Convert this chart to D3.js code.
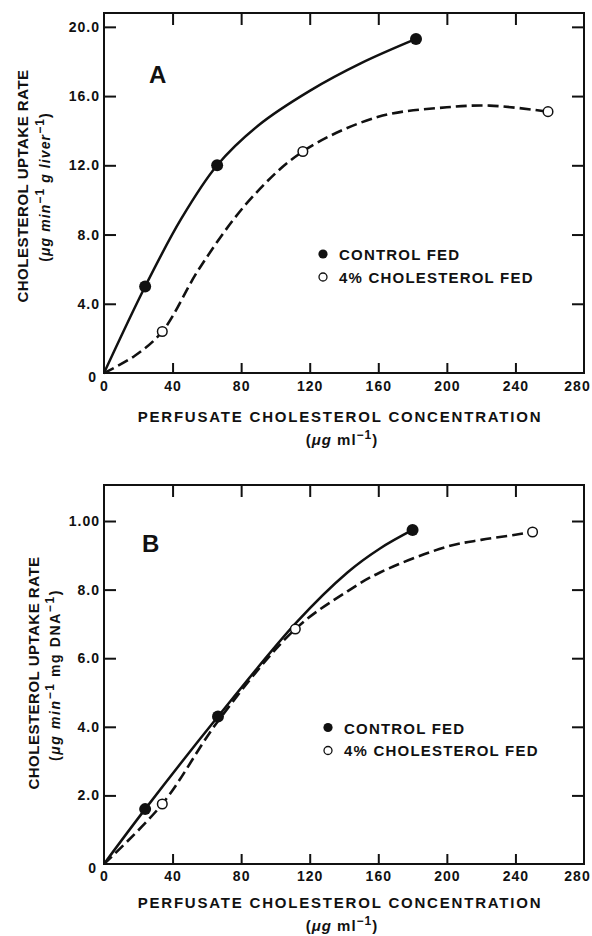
<!DOCTYPE html>
<html><head><meta charset="utf-8">
<script src="https://cdn.jsdelivr.net/npm/d3@7/dist/d3.min.js"></script>
<style>
html,body{margin:0;padding:0;background:#fff;}
svg{display:block;}
text{font-family:"Liberation Sans",Arial,Helvetica,sans-serif;fill:#111;}
</style></head>
<body>
<svg id="chart" width="592" height="936"></svg>
<script>
// ---------- data ----------
const xTicks = [0, 40, 80, 120, 160, 200, 240, 280];
const xTickLabels = ["0", "40", "80", "120", "160", "200", "240", "280"];

const yTicksA = [0, 4, 8, 12, 16, 20];
const yTickLabelsA = ["0", "4.0", "8.0", "12.0", "16.0", "20.0"];
const yTicksB = [0, 0.2, 0.4, 0.6, 0.8, 1.0];
const yTickLabelsB = ["0", "2.0", "4.0", "6.0", "8.0", "1.00"];

const seriesNames = ["CONTROL FED", "4% CHOLESTEROL FED"];

// Panel A measured points
const controlA_x = [24, 66, 182];
const controlA_y = [5.0, 12.0, 19.3];
const cholA_x = [34, 116, 259];
const cholA_y = [2.4, 12.8, 15.1];
// Panel A hand-drawn curves
const controlCurveA_x = [0, 24, 45, 66, 90, 120, 150, 182];
const controlCurveA_y = [0, 5.0, 8.9, 12.0, 14.3, 16.3, 17.9, 19.3];
const cholCurveA_x = [0, 18, 34, 56, 85, 116, 160, 200, 225, 259];
const cholCurveA_y = [0, 1.0, 2.4, 6.1, 10.0, 12.8, 14.8, 15.35, 15.45, 15.1];

// Panel B measured points
const controlB_x = [24, 66.5, 180];
const controlB_y = [0.16, 0.43, 0.974];
const cholB_x = [34, 111.6, 250];
const cholB_y = [0.175, 0.685, 0.968];
// Panel B hand-drawn curves
const controlCurveB_x = [0, 24, 66.5, 112, 142, 161, 180];
const controlCurveB_y = [0, 0.16, 0.43, 0.703, 0.85, 0.92, 0.974];
const cholCurveB_x = [0, 34, 67, 111.6, 142, 161, 200, 220, 240, 250];
const cholCurveB_y = [0, 0.175, 0.42, 0.685, 0.795, 0.85, 0.925, 0.945, 0.96, 0.968];

// ---------- drawing ----------
const svg = d3.select("#chart");
const zip = (xs, ys) => xs.map((x, i) => [x, ys[i]]);

function drawPanel(cfg) {
  const x = d3.scaleLinear().domain([0, 280]).range([cfg.left, cfg.right]);
  const y = d3.scaleLinear().domain([0, cfg.yMax]).range([cfg.bottom, cfg.top]);
  const g = svg.append("g");

  // frame
  g.append("rect").attr("x", cfg.left).attr("y", cfg.top)
    .attr("width", cfg.right - cfg.left).attr("height", cfg.bottom - cfg.top)
    .attr("fill", "none").attr("stroke", "#111").attr("stroke-width", 2);

  const tickFont = sel => sel.selectAll("text")
    .attr("font-size", 14).attr("font-weight", "bold")
    .attr("letter-spacing", 1).attr("fill", "#111")
    .attr("font-family", "Liberation Sans, Arial, sans-serif");

  // bottom axis
  const bx = g.append("g").attr("transform", `translate(0,${cfg.bottom})`)
    .call(d3.axisBottom(x).tickValues(xTicks)
      .tickFormat((d, i) => xTickLabels[i]).tickSizeInner(-10).tickSizeOuter(0).tickPadding(cfg.xPad));
  bx.select(".domain").remove();
  bx.selectAll("line").attr("stroke", "#111").attr("stroke-width", 2);
  tickFont(bx);
  bx.selectAll(".tick").filter(d => d === 280).select("text").attr("dx", -7);
  bx.selectAll(".tick").filter(d => d === 0 || d === 280).select("line").remove();

  // top axis
  const tx = g.append("g").attr("transform", `translate(0,${cfg.top})`)
    .call(d3.axisTop(x).tickValues(xTicks.slice(1, -1)).tickFormat("").tickSizeInner(-12).tickSizeOuter(0));
  tx.select(".domain").remove();
  tx.selectAll("line").attr("stroke", "#111").attr("stroke-width", 2);

  // left axis
  const ly = g.append("g").attr("transform", `translate(${cfg.left},0)`)
    .call(d3.axisLeft(y).tickValues(cfg.yTicks)
      .tickFormat((d, i) => cfg.yLabels[i]).tickSizeInner(-12).tickSizeOuter(0).tickPadding(4));
  ly.select(".domain").remove();
  ly.selectAll("line").attr("stroke", "#111").attr("stroke-width", 2);
  tickFont(ly);
  ly.selectAll(".tick").filter(d => d === 0).select("line").remove();
  ly.selectAll(".tick").filter(d => d === 0).select("text").attr("dy", "0.62em").attr("dx", -3);

  // right axis
  const ry = g.append("g").attr("transform", `translate(${cfg.right},0)`)
    .call(d3.axisRight(y).tickValues(cfg.yTicks.slice(1)).tickFormat("").tickSizeInner(-12).tickSizeOuter(0));
  ry.select(".domain").remove();
  ry.selectAll("line").attr("stroke", "#111").attr("stroke-width", 2);

  // curves
  const line = d3.line().x(d => x(d[0])).y(d => y(d[1])).curve(d3.curveCatmullRom.alpha(0.5));
  g.append("path").datum(zip(cfg.cCurveX, cfg.cCurveY)).attr("d", line)
    .attr("fill", "none").attr("stroke", "#111").attr("stroke-width", 2.5);
  g.append("path").datum(zip(cfg.hCurveX, cfg.hCurveY)).attr("d", line)
    .attr("fill", "none").attr("stroke", "#111").attr("stroke-width", 2.6)
    .attr("stroke-dasharray", "11,5");

  // points
  g.selectAll(".cp").data(zip(cfg.cx, cfg.cy)).join("circle")
    .attr("cx", d => x(d[0])).attr("cy", d => y(d[1])).attr("r", 6).attr("fill", "#111");
  g.selectAll(".hp").data(zip(cfg.hx, cfg.hy)).join("circle")
    .attr("cx", d => x(d[0])).attr("cy", d => y(d[1])).attr("r", 4.8)
    .attr("fill", "#fff").attr("stroke", "#111").attr("stroke-width", 1.5);

  // panel letter
  g.append("text").attr("x", cfg.letterX).attr("y", cfg.letterY)
    .attr("font-size", 24).attr("font-weight", "bold").text(cfg.letter);

  // legend
  const lg = g.append("g");
  lg.append("circle").attr("cx", cfg.legX).attr("cy", cfg.legY).attr("r", 4.6).attr("fill", "#111");
  lg.append("circle").attr("cx", cfg.legX).attr("cy", cfg.legY + 23).attr("r", 4)
    .attr("fill", "#fff").attr("stroke", "#111").attr("stroke-width", 1.3);
  seriesNames.forEach((s, i) => {
    lg.append("text").attr("x", cfg.legX + 16).attr("y", cfg.legY + 6 + i * 22.5)
      .attr("font-size", 15).attr("font-weight", "bold").attr("letter-spacing", 1.2).text(s);
  });

  // x-axis title
  g.append("text").attr("x", (cfg.left + cfg.right) / 2 - 4).attr("y", cfg.bottom + cfg.xTitleDY)
    .attr("text-anchor", "middle").attr("font-size", 15).attr("font-weight", "bold")
    .attr("letter-spacing", 1.8).text("PERFUSATE CHOLESTEROL CONCENTRATION");
  const xu = g.append("text").attr("x", (cfg.left + cfg.right) / 2 - 2).attr("y", cfg.bottom + cfg.xUnitDY)
    .attr("text-anchor", "middle").attr("font-size", 15).attr("font-weight", "bold")
    .attr("letter-spacing", 1);
  xu.append("tspan").text("(");
  xu.append("tspan").attr("font-style", "italic").text("\u03BCg");
  xu.append("tspan").text(" ml");
  xu.append("tspan").attr("dy", -6).attr("font-size", 12).text("\u22121");
  xu.append("tspan").attr("dy", 6).text(")");

  // y-axis title
  g.append("text")
    .attr("transform", `translate(${cfg.yTitleX},${cfg.yTitleY}) rotate(-90)`)
    .attr("text-anchor", "middle").attr("font-size", 15).attr("font-weight", "bold")
    .attr("letter-spacing", 0.5).text("CHOLESTEROL UPTAKE RATE");
  const yu = g.append("text")
    .attr("transform", `translate(${cfg.yTitleX + cfg.yUnitDX},${cfg.yUnitY}) rotate(-90)`)
    .attr("text-anchor", "middle").attr("font-size", 14).attr("font-weight", "bold")
    .attr("letter-spacing", cfg.yUnitLS);
  cfg.yUnit.forEach(p => {
    const t = yu.append("tspan").text(p.t);
    if (p.italic) t.attr("font-style", "italic");
    if (p.sup) t.attr("dy", -6).attr("font-size", 12);
    if (p.down) t.attr("dy", 6);
  });
}

drawPanel({
  left: 104, right: 584, top: 13, bottom: 373, yMax: 20.8,
  yTicks: yTicksA, yLabels: yTickLabelsA, xPad: 8, xTitleDY: 49, xUnitDY: 72,
  cx: controlA_x, cy: controlA_y, hx: cholA_x, hy: cholA_y,
  cCurveX: controlCurveA_x, cCurveY: controlCurveA_y,
  hCurveX: cholCurveA_x, hCurveY: cholCurveA_y,
  letter: "A", letterX: 149, letterY: 83,
  legX: 323, legY: 254,
  yTitleX: 28, yTitleY: 186, yUnitDX: 22, yUnitY: 187, yUnitLS: 1.1,
  yUnit: [{t: "(", italic: false}, {t: "\u03BCg min", italic: true},
          {t: "\u22121", sup: true}, {t: "  g liver", italic: true, down: true},
          {t: "\u22121", sup: true}, {t: ")", down: true}]
});

drawPanel({
  left: 104, right: 584, top: 485, bottom: 864, yMax: 1.105,
  yTicks: yTicksB, yLabels: yTickLabelsB, xPad: 7, xTitleDY: 44, xUnitDY: 67,
  cx: controlB_x, cy: controlB_y, hx: cholB_x, hy: cholB_y,
  cCurveX: controlCurveB_x, cCurveY: controlCurveB_y,
  hCurveX: cholCurveB_x, hCurveY: cholCurveB_y,
  letter: "B", letterX: 142, letterY: 552,
  legX: 328, legY: 727.5,
  yTitleX: 39, yTitleY: 673, yUnitDX: 21, yUnitY: 675, yUnitLS: 1.6,
  yUnit: [{t: "(", italic: false}, {t: "\u03BCg min", italic: true},
          {t: "\u22121", sup: true}, {t: "  mg DNA", down: true},
          {t: "\u22121", sup: true}, {t: ")", down: true}]
});
</script>
</body></html>
